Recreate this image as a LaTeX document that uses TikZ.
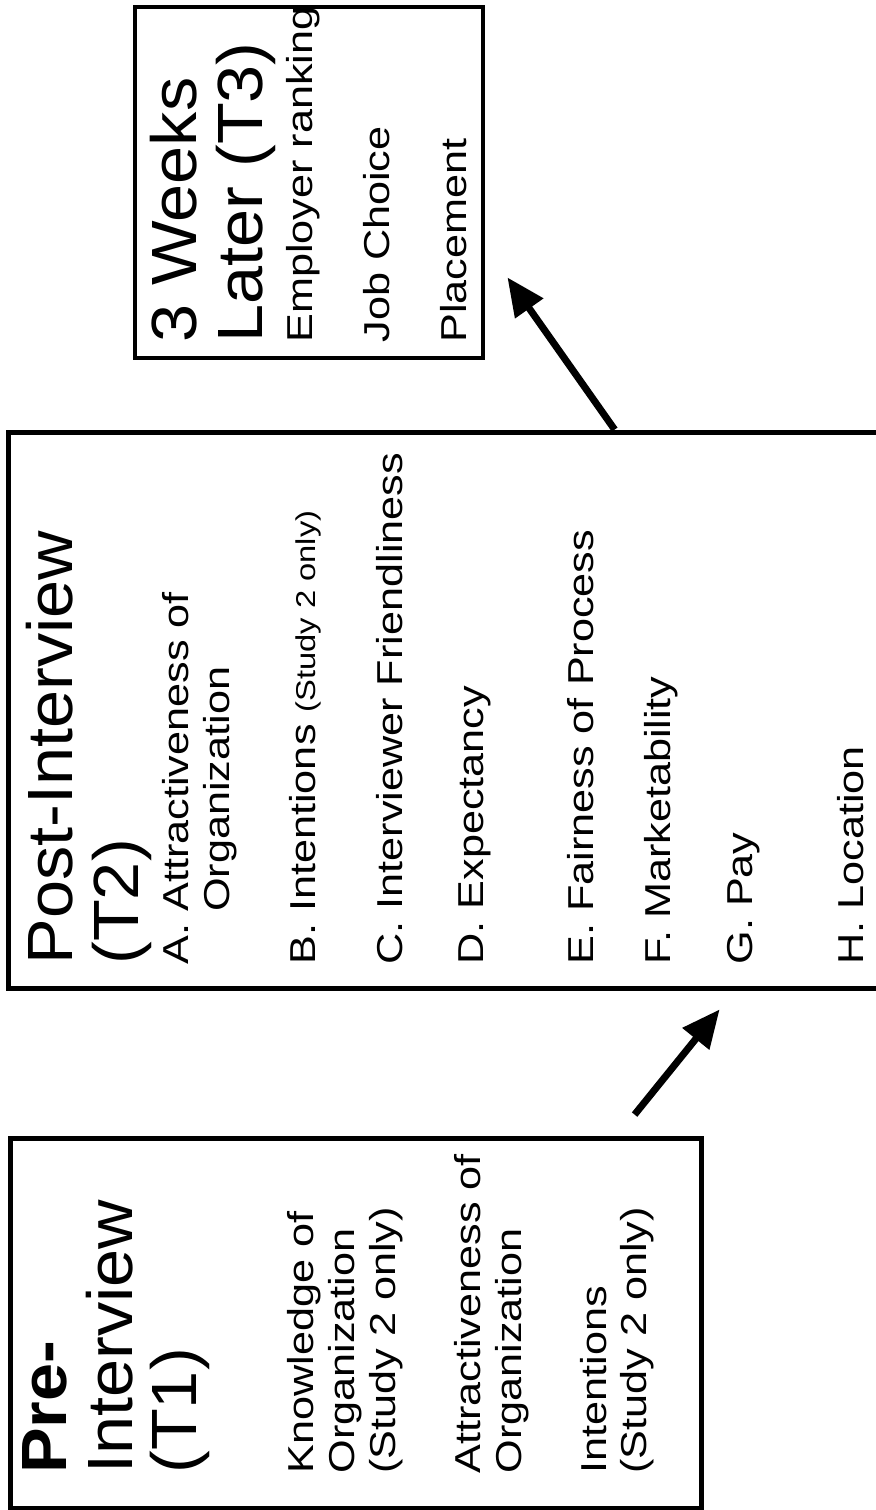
\documentclass[tikz,border=0pt]{standalone}
\usepackage{fontspec}
\setmainfont{Liberation Sans}
\usetikzlibrary{arrows.meta}

\newcommand{\headfont}{\fontsize{36.4}{36.4}\selectfont}
\newcommand{\bodyfont}{\fontsize{20.5}{20.5}\selectfont}
\newcommand{\notefont}{\fontsize{15.5}{15.5}\selectfont}

\begin{document}
\begin{tikzpicture}[x=0.02cm, y=-0.02cm,
  box/.style={draw, line width=2.8pt, inner sep=0pt},
  head/.style={rotate=90, xscale=1.07, anchor=base west, inner sep=0pt, font=\headfont},
  body/.style={rotate=90, xscale=1.2, anchor=base west, inner sep=0pt, font=\bodyfont},
  link/.style={-{Triangle[length=21.6pt, width=18.8pt]}, line width=4pt}]
  \useasboundingbox (0, 0) rectangle (875, 1510);
  \fill [white] (0, 0) rectangle (875, 1510);

  % the three boxes
  \node[box, minimum width=13.84cm, minimum height=7.40cm] (t1) at (356, 1323) {};
  \node[box, minimum width=17.48cm, minimum height=11.14cm] (t2) at (445, 710.5) {};
  \node[box, minimum width=6.96cm, minimum height=7.02cm] (t3) at (309, 182.5) {};

  % T1
  \node[head] (t1h1) at (66, 1474) {\textbf{Pre-}};
  \node[head] (t1h2) at (132, 1474) {Interview};
  \node[head] (t1h3) at (196, 1474) {(T1)};
  \foreach \bx/\txt [count=\i] in {313/Knowledge of, 354/Organization,
      395/(Study 2 only), 480/Attractiveness of, 521/Organization,
      606/Intentions, 646/(Study 2 only)}
    \node[body] (t1l\i) at (\bx, 1474) {\txt};

  % T2
  \node[head] (t2h1) at (72, 965) {Post-Interview};
  \node[head] (t2h2) at (138, 965) {(T2)};
  \node[body] (t2a) at (188, 965) {A. Attractiveness of};
  \node[body] (t2a2) at (229, 965) {\phantom{A.\ }Organization};
  \node[body] (t2b) at (315, 965) {B. Intentions {\notefont (Study 2 only)}};
  \node[body] (t2c) at (402, 965) {C. Interviewer Friendliness};
  \foreach \bx/\txt [count=\i] in {483/D. Expectancy, 593/E. Fairness of Process,
      670/F. Marketability, 752/G. Pay, 863/H. Location}
    \node[body] (t2l\i) at (\bx, 965) {\txt};

  % T3
  \node[head] (t3h1) at (196, 343) {3 Weeks};
  \node[head] (t3h2) at (262, 343) {Later (T3)};
  \foreach \bx/\txt [count=\i] in {312/Employer ranking, 389/Job Choice, 466/Placement}
    \node[body] (t3l\i) at (\bx, 343) {\txt};

  % arrows
  \draw[link] ([shift={(627, -21)}]t1.north west) -- ([shift={(714, 18)}]t2.south west);
  \draw[link] ([shift={(609, 0)}]t2.north west) -- ([shift={(22, -83)}]t3.south east);
\end{tikzpicture}
\end{document}
